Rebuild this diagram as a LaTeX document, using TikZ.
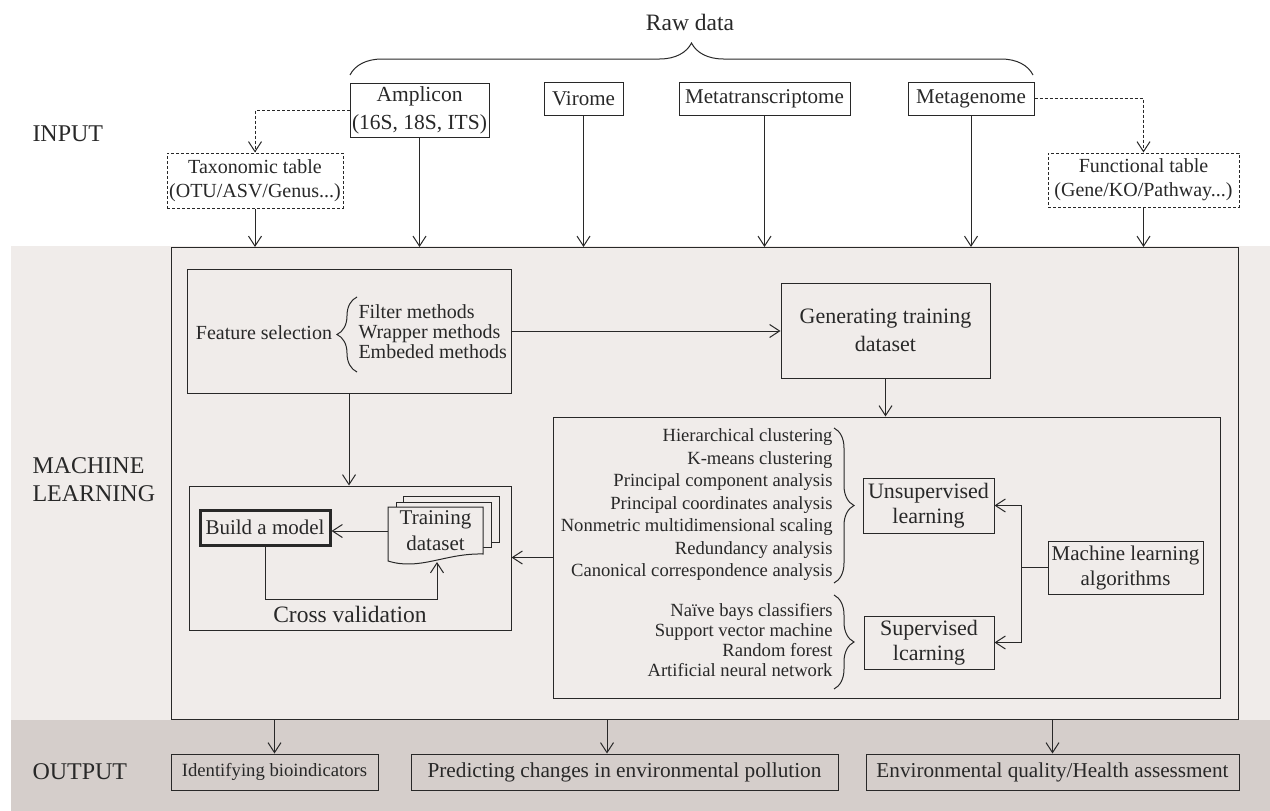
\documentclass[tikz,border=0pt]{standalone}
\usepackage{fontspec}
\setmainfont{Liberation Serif}
\usetikzlibrary{arrows.meta,decorations.pathreplacing}
\definecolor{lineink}{RGB}{40,40,40}
\definecolor{bandlight}{RGB}{240,236,234}
\definecolor{banddark}{RGB}{213,206,203}
\newcommand{\fsz}[2]{\fontsize{#1}{#2}\selectfont}

\begin{document}
\begin{tikzpicture}[x=1pt,y=-1pt,color=lineink,line width=1pt,
    box/.style={draw=lineink,line width=1pt,inner sep=1pt,align=center},
    dbox/.style={box,dash pattern=on 3pt off 2pt},
    lbl/.style={anchor=west,align=left,inner sep=0pt,font=\fsz{24}{28}},
    arr/.style={-{Straight Barb[length=10pt,width=13pt]}},
    darr/.style={arr,dash pattern=on 3pt off 2pt},
    brc/.style={decorate,decoration={brace,amplitude=#1}}]
  % bands
  \fill[white] (0,0) rectangle (1270,811);
  \fill[bandlight] (11,246) rectangle (1270,720);
  \fill[banddark] (11,720) rectangle (1270,811);
  \useasboundingbox (0,0) rectangle (1270,811);

  \node[lbl] (inlbl) at (32,134) {INPUT};
  \node[lbl] (mllbl) at (32,480) {MACHINE\\LEARNING};
  \node[lbl] (outlbl) at (32,772) {OUTPUT};

  % input
  \node[font=\fsz{23.5}{28}] (rawdata) at (690,22) {Raw data};
  \draw[brc=32] (350,75) -- (1033,75);
  \node[box,font=\fsz{21.5}{28},minimum width=139pt,minimum height=54pt] (amplicon) at (419.5,110) {Amplicon\\(16S, 18S, ITS)};
  \node[box,font=\fsz{21}{25},minimum width=79pt,minimum height=33pt] (virome) at (583.5,98.5) {Virome};
  \node[box,font=\fsz{21}{25},minimum width=171pt,minimum height=33pt] (metatrans) at (764.5,98.5) {Metatranscriptome};
  \node[box,font=\fsz{21}{25},minimum width=126pt,minimum height=33pt] (metagenome) at (971,98.5) {Metagenome};
  \node[dbox,font=\fsz{20}{24},minimum width=176pt,minimum height=55pt] (taxo) at (255,180.5) {Taxonomic table\\(OTU/ASV/Genus...)};
  \node[dbox,font=\fsz{20}{24},minimum width=191pt,minimum height=54pt] (func) at (1143.5,180) {Functional table\\(Gene/KO/Pathway...)};

  \node[box,minimum width=1067pt,minimum height=472pt,anchor=north west] (mlbox) at (171,247) {};

  \draw[darr] (amplicon.west) -| (taxo.north);
  \draw[darr] (metagenome.east) -| (func.north);
  \foreach \src in {taxo,amplicon,virome,metatrans,metagenome,func}
    \draw[arr] (\src.south) -- (\src.south |- mlbox.north);

  % feature selection
  \node[box,minimum width=324pt,minimum height=124pt] (featbox) at (349,331) {};
  \node[font=\fsz{20}{24}] (featsel) at (264,333) {Feature selection};
  \draw[brc=20] (357,372) -- (357,297);
  \node[anchor=west,align=left,inner sep=0pt,font=\fsz{20}{20}] (methods) at (358,332) {Filter methods\\Wrapper methods\\Embeded methods};

  \node[box,font=\fsz{22}{28},minimum width=209pt,minimum height=95pt] (genbox) at (885.5,330.5) {Generating training\\dataset};

  % algorithms
  \node[box,minimum width=667pt,minimum height=281pt] (algobox) at (886.5,557.5) {};
  \node[anchor=east,align=right,inner sep=0pt,font=\fsz{18.6}{22.5}] (unsuplist) at (833,505) {Hierarchical clustering\\K-means clustering\\Principal component analysis\\Principal coordinates analysis\\Nonmetric multidimensional scaling\\Redundancy analysis\\Canonical correspondence analysis};
  \node[anchor=east,align=right,inner sep=0pt,font=\fsz{18.6}{20}] (suplist) at (833,640) {Naïve bays classifiers\\Support vector machine\\Random forest\\Artificial neural network};
  \draw[brc=20] (834,428) -- (834,583);
  \draw[brc=20] (834,595) -- (834,689);
  \node[box,font=\fsz{22}{25},minimum width=131pt,minimum height=55pt] (unsup) at (928.5,505.5) {Unsupervised\\learning};
  \node[box,font=\fsz{22}{25},minimum width=130pt,minimum height=53pt] (sup) at (929,642.5) {Supervised\\lcarning};
  \node[box,font=\fsz{21}{25},minimum width=155pt,minimum height=53pt] (mlalg) at (1125.5,567.5) {Machine learning\\algorithms};
  \coordinate (split) at (1021,567.5);
  \draw (mlalg.west) -- (split);
  \draw[arr] (split) |- (unsup.east);
  \draw[arr] (split) |- (sup.east);

  % cross validation
  \node[box,minimum width=322pt,minimum height=144pt] (cvbox) at (350,558) {};
  \node[box,line width=3pt,font=\fsz{21}{25},minimum width=130pt,minimum height=35pt] (build) at (265,527.5) {Build a model};
  \filldraw[fill=bandlight] (403,496) rectangle (499,542);
  \filldraw[fill=bandlight] (396,502) rectangle (491,547);
  \filldraw[fill=bandlight] (388,507) -- (483,507) -- (483,554)
    .. controls (445,553) and (420,571) .. (388,561) -- cycle;
  \node[align=center,font=\fsz{21}{26},minimum width=95pt,minimum height=50pt,inner sep=0pt] (train) at (435.5,531) {Training\\dataset};
  \draw[arr] (train.west) -- (train.west -| build.east);
  \coordinate (cvlow) at (437,599);
  \coordinate (trainbot) at (437,562);
  \draw[arr] (build.south) |- (cvlow) -- (trainbot);
  \node[font=\fsz{23.5}{28}] (cvtext) at (350,614) {Cross validation};

  \draw[arr] (featbox.east) -- (featbox.east -| genbox.west);
  \draw[arr] (featbox.south) -- (featbox.south |- cvbox.north);
  \draw[arr] (genbox.south) -- (genbox.south |- algobox.north);
  \draw[arr] (algobox.west) -- (algobox.west -| cvbox.east);

  % output
  \node[box,font=\fsz{18.7}{22},minimum width=207pt,minimum height=36pt] (bio) at (274.5,772) {Identifying bioindicators};
  \node[box,font=\fsz{21.3}{25},minimum width=427pt,minimum height=36pt] (pred) at (624.5,772) {Predicting changes in environmental pollution};
  \node[box,font=\fsz{21.2}{25},minimum width=373pt,minimum height=36pt] (env) at (1052.5,772) {Environmental quality/Health assessment};
  \draw[arr] (bio.north |- mlbox.south) -- (bio.north);
  \draw[arr] ([xshift=-17.5pt]pred.north |- mlbox.south) -- ([xshift=-17.5pt]pred.north);
  \draw[arr] (env.north |- mlbox.south) -- (env.north);
\end{tikzpicture}
\end{document}
